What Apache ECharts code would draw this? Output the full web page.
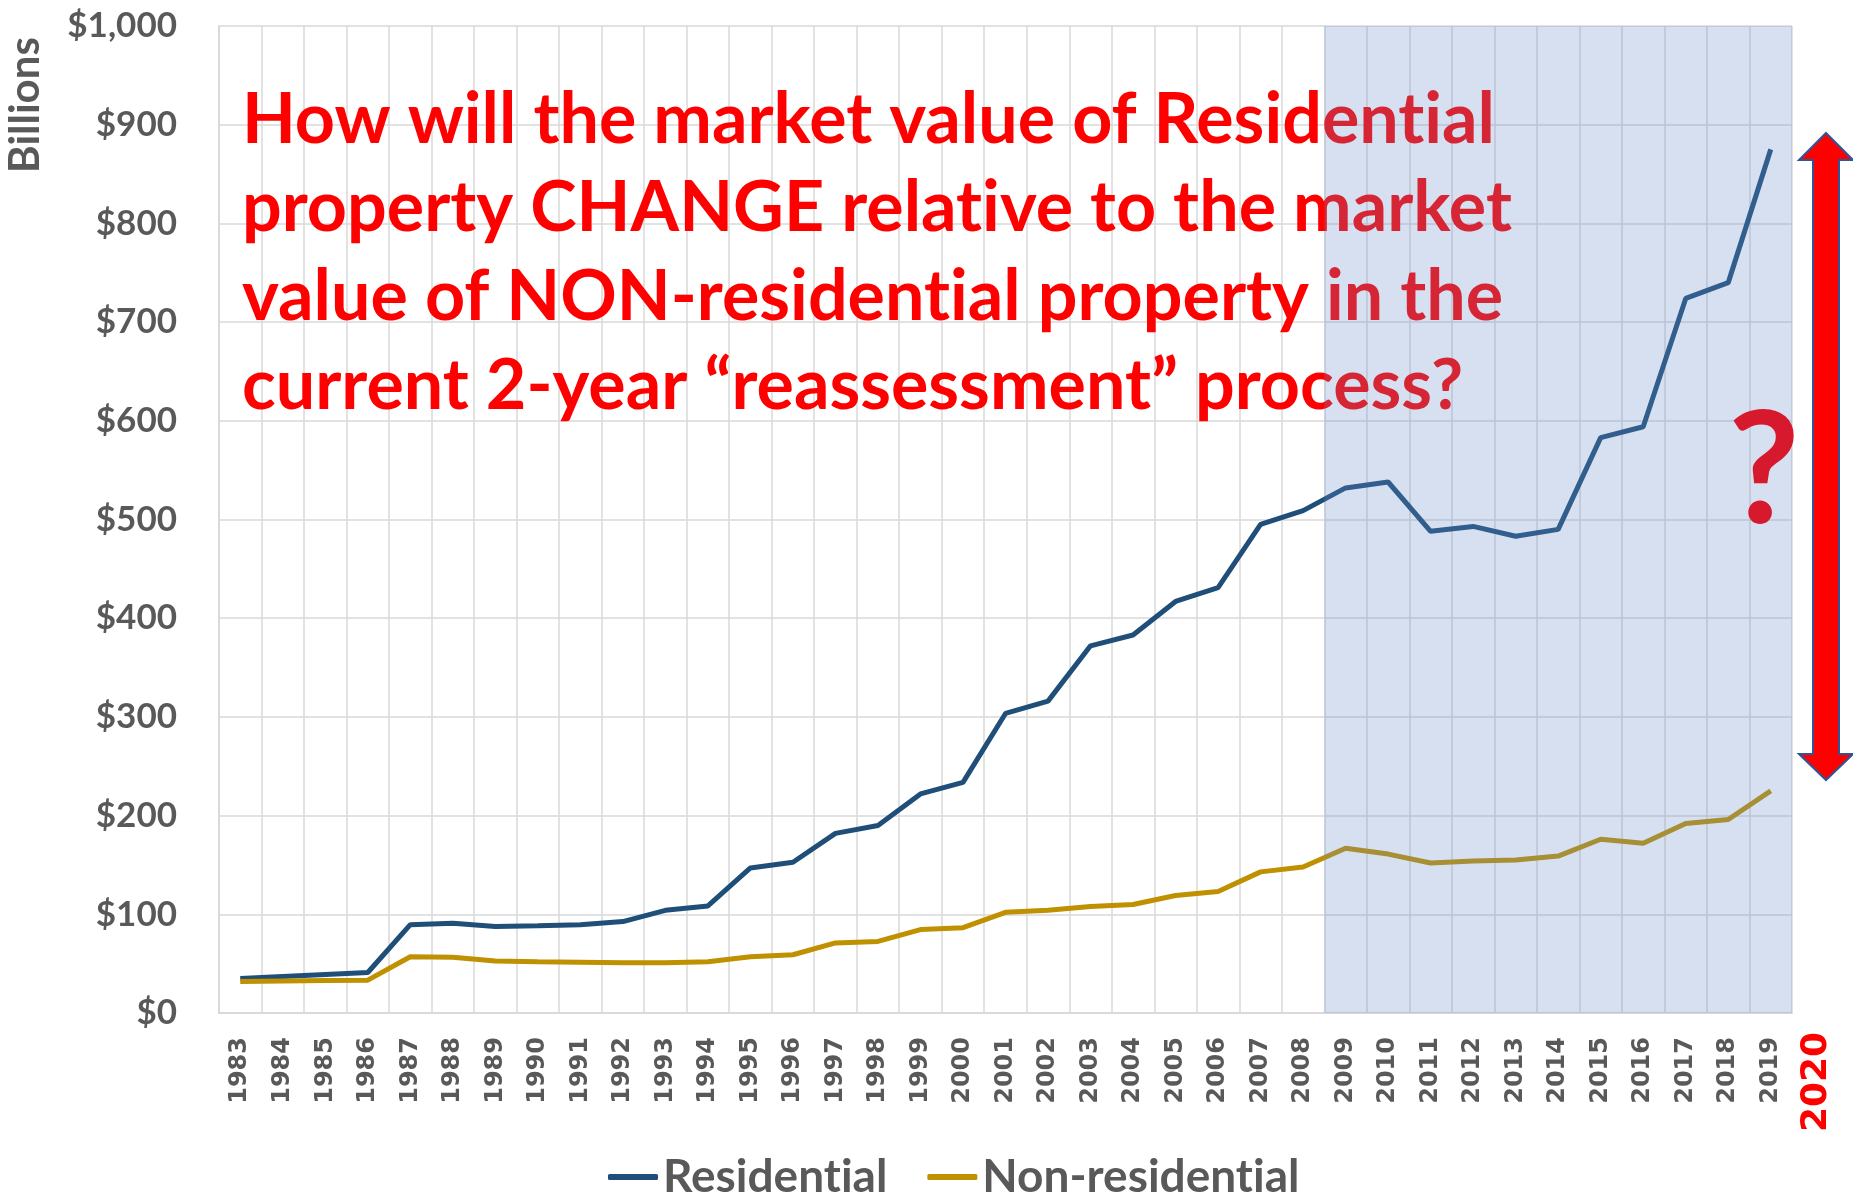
<!DOCTYPE html>
<html>
<head>
<meta charset="utf-8">
<script src="https://cdn.jsdelivr.net/npm/echarts@6/dist/echarts.min.js"></script>
<style>
  html, body { margin: 0; padding: 0; background: #fff; }
  #main { width: 1853px; height: 1196px; }
</style>
</head>
<body>
<div id="main"></div>
<script>
var years = ['1983','1984','1985','1986','1987','1988','1989','1990','1991','1992',
             '1993','1994','1995','1996','1997','1998','1999','2000','2001','2002',
             '2003','2004','2005','2006','2007','2008','2009','2010','2011','2012',
             '2013','2014','2015','2016','2017','2018','2019'];

// billions of dollars
var residential = [35, 37, 39, 41, 89.5, 91, 87.6, 88.4, 89.5, 92.6,
                   104, 108.5, 147, 152.7, 182, 190, 222, 233.7, 303.5, 316,
                   372, 383, 417, 431, 495, 509, 532, 538, 488, 493,
                   483, 490, 583, 594, 724, 740, 875];

var nonResidential = [32, 32.5, 33, 33.3, 57, 56.6, 52.7, 52, 51.5, 50.8,
                      50.8, 52, 57, 59, 71, 72.5, 84.5, 86.4, 102, 104,
                      108, 110, 119, 123, 143, 148, 167, 161, 152, 154,
                      155, 159, 176, 172, 192, 196, 225];

// shaded years (reassessment period)
var shadeFrom = '2009';
var shadeTop = 1000;

var question = [
    'How will the market value of Residential',
    'property CHANGE relative to the market',
    'value of NON-residential property in the',
    'current 2-year \u201creassessment\u201d process?'
];

// Lato joins "ti" into a ligature, the original font doesn't
function noLig(s) {
    return s.replace(/ti/g, 't\u200Ci');
}

var shade = years.map(function (y) {
    return y >= shadeFrom ? shadeTop : null;
});

var myChart = echarts.init(document.getElementById('main'));

var option = {
    backgroundColor: '#fff',
    animation: false,
    grid: {
        left: 219,
        right: 61,
        top: 26,
        bottom: 183
    },
    legend: {
        data: ['Residential', 'Non-residential'],
        left: 603,
        top: 1149,
        icon: 'roundRect',
        itemWidth: 50,
        itemHeight: 6,
        itemGap: 40,
        formatter: noLig,
        textStyle: {
            color: '#595959',
            fontFamily: 'Lato',
            fontWeight: 'bold',
            fontSize: 46
        }
    },
    xAxis: {
        type: 'category',
        data: years,
        boundaryGap: true,
        axisLine: { show: true, lineStyle: { color: '#d9d9d9', width: 2 } },
        axisTick: { show: false },
        axisLabel: {
            interval: 0,
            rotate: 90,
            margin: 24,
            color: '#595959',
            fontFamily: 'DejaVu Sans',
            fontWeight: 'bold',
            fontSize: 24
        },
        splitLine: { show: true, interval: 0, lineStyle: { color: '#d9d9d9', width: 1.5 } }
    },
    yAxis: {
        type: 'value',
        min: 0,
        max: 1000,
        interval: 100,
        axisLine: { show: true, lineStyle: { color: '#d9d9d9', width: 2 } },
        axisTick: { show: false },
        axisLabel: {
            margin: 42,
            color: '#595959',
            fontFamily: 'Lato',
            fontWeight: 'bold',
            fontSize: 35,
            formatter: function (v) {
                return '$' + v.toLocaleString('en-US');
            }
        },
        splitLine: { show: true, lineStyle: { color: '#d9d9d9', width: 1.5 } }
    },
    graphic: [
        {
            type: 'text',
            z: 3,
            style: {
                text: noLig(question.join('\n')),
                x: 242,
                y: 76,
                fill: '#ff0000',
                fontFamily: 'Lato',
                fontWeight: 'bold',
                fontSize: 70,
                lineHeight: 88.6
            }
        },
        {
            type: 'text',
            z: 3,
            x: 25,
            y: 105,
            rotation: Math.PI / 2,
            style: {
                text: 'Billions',
                fill: '#595959',
                fontFamily: 'Lato',
                fontWeight: 'bold',
                fontSize: 42,
                align: 'center',
                verticalAlign: 'middle'
            }
        },
        {
            type: 'text',
            z: 3,
            x: 1817,
            y: 1082,
            rotation: Math.PI / 2,
            style: {
                text: '2020',
                fill: '#ff0000',
                fontFamily: 'DejaVu Sans',
                fontWeight: 'bold',
                fontSize: 36,
                align: 'center',
                verticalAlign: 'middle'
            }
        },
        {
            type: 'text',
            z: 20,
            x: 1764,
            y: 473,
            style: {
                text: '?',
                fill: '#d7192e',
                fontFamily: 'Lato',
                fontWeight: 'bold',
                fontSize: 156,
                align: 'center',
                verticalAlign: 'middle'
            }
        },
        {
            type: 'polygon',
            z: 20,
            shape: {
                points: [
                    [1826, 133], [1853, 160], [1839, 160], [1839, 754], [1853, 754],
                    [1826, 780], [1799, 754], [1813, 754], [1813, 160], [1799, 160]
                ]
            },
            style: { fill: '#ff0000', stroke: '#2f5597', lineWidth: 2 }
        }
    ],
    series: [
        {
            name: 'Residential',
            type: 'line',
            z: 4,
            data: residential,
            symbol: 'none',
            lineStyle: { color: '#1f4e79', width: 5 },
            itemStyle: { color: '#1f4e79' }
        },
        {
            name: 'Non-residential',
            type: 'line',
            z: 4,
            data: nonResidential,
            symbol: 'none',
            lineStyle: { color: '#bf9000', width: 5 },
            itemStyle: { color: '#bf9000' }
        },
        {
            name: 'shade',
            type: 'bar',
            z: 10,
            data: shade,
            barWidth: '100%',
            silent: true,
            itemStyle: { color: 'rgba(103,140,199,0.27)' }
        }
    ]
};

myChart.setOption(option);
</script>
</body>
</html>
